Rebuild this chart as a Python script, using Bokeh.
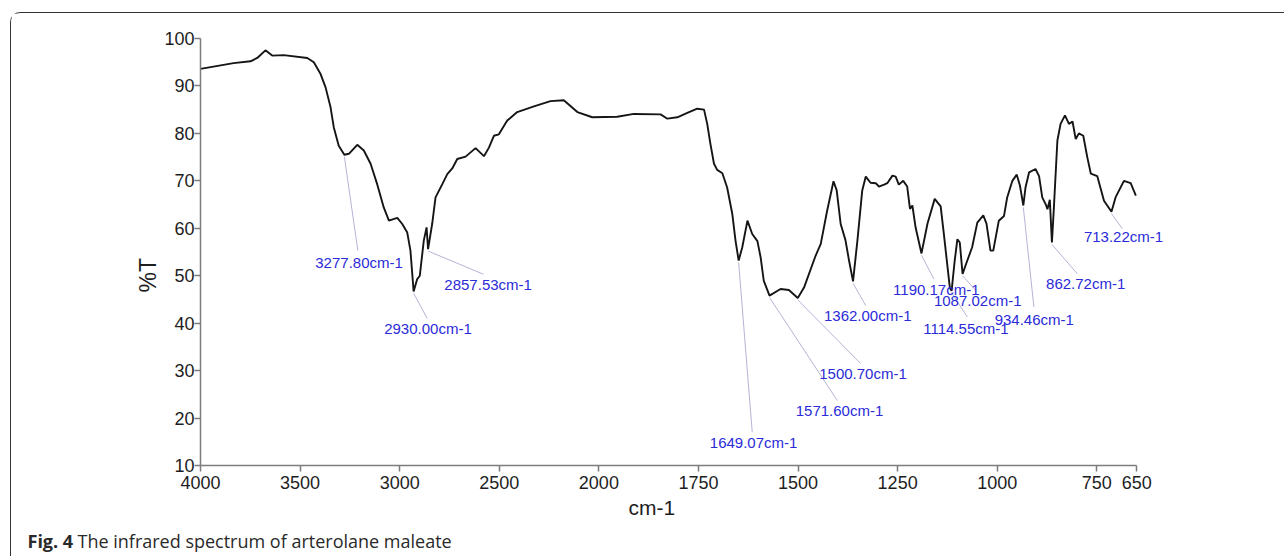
import numpy as np
from bokeh.plotting import figure
from bokeh.models import ColumnDataSource, Range1d, FixedTicker, LabelSet, Title
from bokeh.core.properties import value
from bokeh.embed import file_html
from bokeh.resources import INLINE

# ---------------- data ----------------
wavenumber = [
    4000, 3834, 3749, 3715, 3674, 3640, 3582, 3464, 3431, 3397, 3372, 3347, 3331, 3306,
    3277.8, 3255, 3213, 3180, 3146, 3113, 3080, 3054, 3012, 2987, 2962, 2946, 2930,
    2912, 2899, 2879, 2865, 2857.5, 2837, 2820, 2786, 2761, 2736, 2711, 2669, 2619,
    2577, 2552, 2527, 2502, 2460, 2410, 2326, 2243, 2176, 2108, 2033,
    1954, 1912, 1845, 1828, 1803, 1778, 1753, 1736, 1728, 1720, 1711, 1703, 1690, 1678,
    1665, 1657, 1649.07, 1640, 1627, 1615, 1602, 1594, 1586, 1571.6, 1544, 1523, 1500.7,
    1485, 1456, 1443, 1427, 1411, 1403, 1393, 1381, 1372, 1362, 1351, 1339, 1330, 1318,
    1305, 1297, 1284, 1276, 1263, 1255, 1247, 1236, 1226, 1219, 1213, 1205, 1190.17,
    1175, 1157, 1142, 1134, 1119, 1114.55, 1107, 1100, 1094, 1087.02, 1076, 1063, 1050,
    1035, 1027, 1017, 1010, 996, 983, 975, 962, 951, 943, 934.46, 929, 920, 904, 895,
    887, 878, 874, 868, 862.72, 858, 849, 841, 830, 820, 811, 803, 795, 784, 774, 765,
    749, 732, 713.22, 703, 682, 665, 652,
]
transmittance = [
    93.6, 94.8, 95.2, 95.9, 97.5, 96.4, 96.5, 95.9, 95.0, 92.5, 89.7, 85.5, 81.3, 77.4,
    75.5, 75.7, 77.6, 76.4, 73.6, 69.3, 64.4, 61.6, 62.2, 60.9, 59.1, 55.3, 46.7,
    49.3, 50.0, 57.4, 60.2, 55.6, 60.9, 66.5, 69.3, 71.4, 72.6, 74.6, 75.1, 76.9,
    75.2, 77.0, 79.5, 79.8, 82.7, 84.5, 85.7, 86.8, 87.0, 84.5, 83.4,
    83.5, 84.1, 84.0, 83.1, 83.4, 84.3, 85.2, 85.0, 82.0, 77.8, 73.6, 72.3, 71.6, 68.6,
    63.0, 57.4, 53.2, 56.0, 61.6, 58.8, 57.3, 53.9, 48.9, 45.8, 47.2, 47.0, 45.3,
    47.5, 54.2, 56.7, 63.7, 69.9, 68.0, 60.9, 57.5, 53.2, 48.8, 57.4, 67.9, 70.9, 69.6,
    69.5, 68.8, 69.2, 69.5, 71.1, 70.9, 69.2, 70.0, 68.8, 64.1, 64.8, 60.2, 54.7,
    61.0, 66.2, 64.6, 58.8, 47.5, 46.8, 53.0, 57.7, 57.0, 50.4, 53.0, 56.0, 61.2,
    62.7, 61.0, 55.3, 55.3, 61.6, 62.6, 66.5, 70.0, 71.3, 69.0, 64.8, 68.6, 71.8, 72.5, 71.0,
    66.5, 65.0, 64.0, 66.0, 57.0, 64.0, 78.5, 82.0, 83.8, 82.0, 82.5, 78.8, 80.0, 79.5, 75.0, 71.5,
    71.0, 65.8, 63.5, 66.5, 70.0, 69.5, 66.9,
]

peak_wavenumber = [3277.80, 2930.00, 2857.53, 1649.07, 1571.60, 1500.70, 1362.00,
                   1190.17, 1114.55, 1087.02, 934.46, 862.72, 713.22]
peak_transmittance = [75.5, 46.7, 55.6, 53.2, 45.8, 45.3, 48.8,
                      54.7, 46.8, 50.4, 64.8, 57.0, 63.5]
peak_text = [f"{w:.2f}cm-1" for w in peak_wavenumber]

x_tick_values = [4000, 3500, 3000, 2500, 2000, 1750, 1500, 1250, 1000, 750, 650]
y_tick_values = [10, 20, 30, 40, 50, 60, 70, 80, 90, 100]

x_title = "cm-1"
y_title = "%T"
caption_bold = "Fig. 4"
caption_text = "The infrared spectrum of arterolane maleate"

# ---------------- annotation placement (layout, not data) ----------------
label_pos_wn = [3204, 2858, 2556, 1611.6, 1396, 1337, 1325, 1153, 1078.5, 1049, 907, 778, 683]
label_pos_t = [52.8, 38.9, 48.1, 14.9, 21.6, 29.3, 41.6, 47.1, 38.9, 44.8, 40.8, 48.3, 58.3]
leader_end_wn = [3210, 2862, 2579, 1615, 1401.5, 1343, 1330, 1159, 1075, 1054, 908, 799, 686]
leader_end_t = [55.3, 41.0, 50.3, 17.0, 23.7, 31.5, 43.7, 49.3, 41.3, 46.9, 43.4, 50.4, 59.9]


def axis_pos(w):
    """Split IR wavenumber scale: 4000-2000 compressed 2x, 2000-650 linear."""
    w = np.asarray(w, dtype=float)
    return np.where(w >= 2000, (4000.0 - w) / 2.0, 3000.0 - w)


FONT = "Liberation Sans"
INK = "#1e1e1e"
W = 1274

p = figure(width=W, height=514, output_backend="svg", toolbar_location=None,
           x_range=Range1d(0, 2450), y_range=Range1d(10, 100),
           min_border_left=189, min_border_right=109, min_border_top=25, min_border_bottom=62)
p.margin = (12, 0, 0, 10)
p.styles = {"border-top": "1px solid #333333", "border-left": "1px solid #333333",
            "border-top-left-radius": "10px"}
p.outline_line_color = None
p.xgrid.visible = False
p.ygrid.visible = False
p.background_fill_color = "white"
p.border_fill_color = "white"

spec = ColumnDataSource(dict(x=axis_pos(wavenumber), t=transmittance))
p.line("x", "t", source=spec, line_color="#151515", line_width=1.9)

leaders = ColumnDataSource(dict(
    x0=axis_pos(peak_wavenumber), y0=np.array(peak_transmittance) - 0.4,
    x1=axis_pos(leader_end_wn), y1=leader_end_t))
p.segment("x0", "y0", "x1", "y1", source=leaders, line_color="#b4b4d6", line_width=1)

labels = ColumnDataSource(dict(x=axis_pos(label_pos_wn), y=label_pos_t, text=peak_text))
p.add_layout(LabelSet(x="x", y="y", text="text", source=labels, text_align="center",
                      text_baseline="middle", text_font=value(FONT), text_font_size="15px",
                      text_color="#2b2bd8"))

# main axes
for ax in (p.xaxis[0], p.yaxis[0]):
    ax.axis_line_color = "#7d7d7d"
    ax.axis_line_width = 1.5
    ax.major_tick_line_color = "#7d7d7d"
    ax.major_tick_line_width = 1.5
    ax.major_tick_out = 6
    ax.major_tick_in = 0
    ax.minor_tick_line_color = None
    ax.major_label_text_font = FONT
    ax.major_label_text_font_size = "18px"
    ax.major_label_text_color = INK

xt = [int(v) for v in axis_pos(x_tick_values)]
p.xaxis.ticker = FixedTicker(ticks=xt)
p.xaxis.bounds = (0, 2350)
p.xaxis.major_label_overrides = {u: str(w) for u, w in zip(xt, x_tick_values)}
p.xaxis.major_label_standoff = 4
p.yaxis.ticker = FixedTicker(ticks=y_tick_values)
p.yaxis.major_label_standoff = 0

# axis titles (offset = px from the frame's left / bottom edge)
p.add_layout(Title(text=x_title, align="left", offset=428, standoff=6, vertical_align="middle",
                   text_font=FONT, text_font_style="normal", text_font_size="21px",
                   text_color=INK), "below")
p.add_layout(Title(text=y_title, align="left", offset=173, standoff=0, vertical_align="middle",
                   text_font=FONT, text_font_style="normal", text_font_size="23px",
                   text_color=INK), "left")

# caption strip (separate root so it is not aligned to the plot frame)
CH = 30
c = figure(width=W, height=CH, output_backend="svg", toolbar_location=None,
           x_range=Range1d(0, W), y_range=Range1d(0, CH), min_border=0)
c.margin = (0, 0, 0, 10)
c.styles = {"border-left": "1px solid #333333"}
c.axis.visible = False
c.grid.visible = False
c.outline_line_color = None
c.text(x=[16], y=[16], text=[caption_bold], text_font=value("Open Sans"),
       text_font_style="bold", text_font_size="18px", text_baseline="middle",
       text_color="#2a2a2a")
c.text(x=[66], y=[16], text=[caption_text], text_font=value("Open Sans"),
       text_font_size="18px", text_baseline="middle", text_color="#2a2a2a")

open("out.html", "w").write(file_html([p, c], INLINE))
